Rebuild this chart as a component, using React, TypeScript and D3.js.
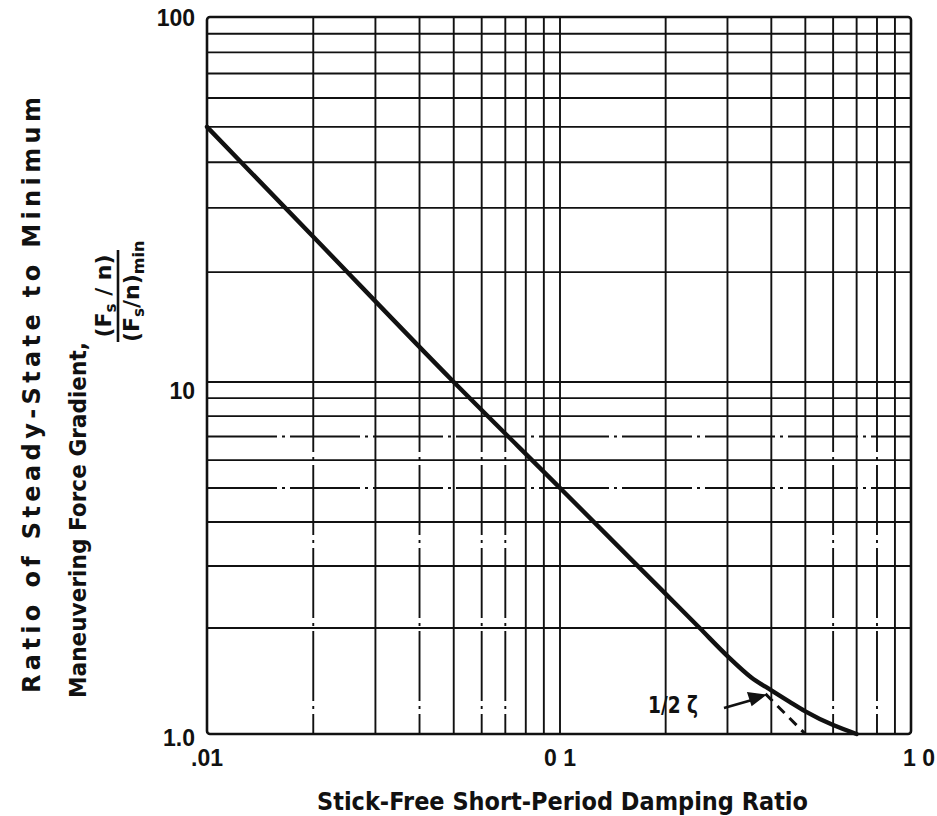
import * as React from 'react';
import * as d3 from 'd3';

// damping ratio values on the x axis, force-gradient ratio on the y axis
const solidZeta = [0.01, 0.02, 0.05, 0.1, 0.2, 0.25, 0.3, 0.35, 0.4, 0.45, 0.5, 0.6, 0.7];
const solidRatio = [50, 25, 10, 5, 2.5, 2.0, 1.665, 1.45, 1.33, 1.236, 1.16, 1.06, 1.0];

// the 1/2ζ asymptote, shown dashed where it leaves the solid curve
const dashZeta = [0.385, 0.5];
const dashRatio = [1.3, 1.0];

const xGrid = [0.02, 0.03, 0.04, 0.05, 0.06, 0.07, 0.08, 0.09, 0.1, 0.2, 0.3, 0.4, 0.5, 0.6, 0.7, 0.8, 0.9];
const yGrid = [2, 3, 4, 5, 6, 7, 8, 9, 10, 20, 30, 40, 50, 60, 70, 80, 90];
// grid lines that print as dash-dot in their lower decade
const xDashDot = [0.02, 0.04, 0.06, 0.07, 0.6, 0.8];
const yDashDot = [5, 7];

const xTickValues = [0.01, 0.1, 1];
const xTickText = ['.01', '0 1', '1 0'];
const yTickValues = [1, 10, 100];
const yTickText = ['1.0', '10', '100'];

const W = 937;
const H = 816;
const font = '"DejaVu Sans", "Liberation Sans", sans-serif';
const tickFont = '"Liberation Sans", Arial, sans-serif';

const App: React.FC = () => {
  // the scanned decades are not quite equal, so each one gets its own span
  const x = d3.scaleLog().domain([0.01, 0.1, 1]).range([207, 560, 911]);
  const y = d3.scaleLog().domain([1, 10, 100]).range([734, 382, 17]);
  const x0 = x(0.01), x1 = x(1);
  const y0 = y(1), y1 = y(100);

  const line = d3.line<[number, number]>()
    .x(d => x(d[0]))
    .y(d => y(d[1]))
    .curve(d3.curveMonotoneX);

  const solid = solidZeta.map((z, i) => [z, solidRatio[i]] as [number, number]);
  const dashed = dashZeta.map((z, i) => [z, dashRatio[i]] as [number, number]);

  const ink = '#111';
  const dashDot = '70,5,3,5';

  return (
    <svg width={W} height={H} viewBox={`0 0 ${W} ${H}`}
      style={{ position: 'absolute', left: 0, top: 0, background: '#fff' }}>
      {/* grid */}
      <g stroke={ink} strokeWidth={1.9}>
        {xGrid.map(v => xDashDot.includes(v) ? (
          <g key={'x' + v}>
            <line x1={x(v)} x2={x(v)} y1={y1} y2={y(10)} />
            <line x1={x(v)} x2={x(v)} y1={y(10)} y2={y0} strokeDasharray={dashDot} />
          </g>
        ) : (
          <line key={'x' + v} x1={x(v)} x2={x(v)} y1={y1} y2={y0} />
        ))}
        {yGrid.map(v => (
          <line key={'y' + v} x1={x0} x2={x1} y1={y(v)} y2={y(v)}
            strokeDasharray={yDashDot.includes(v) ? dashDot : undefined} />
        ))}
      </g>
      <rect x={x0} y={y1} width={x1 - x0} height={y0 - y1} fill="none" stroke={ink} strokeWidth={2.6} rx={3} />

      {/* curves */}
      <path d={line(solid) || ''} fill="none" stroke={ink} strokeWidth={4.4} strokeLinecap="round" />
      <path d={line(dashed) || ''} fill="none" stroke={ink} strokeWidth={3} strokeDasharray="10,7" />

      {/* annotation */}
      <text x={648} y={713} fontFamily={font} fontWeight={700} fontSize={23} fill={ink}
        textLength={50} lengthAdjust="spacingAndGlyphs">1/2 ζ</text>
      <line x1={724} y1={708} x2={752} y2={700} stroke={ink} strokeWidth={2.6} />
      <path d="M765,695 L748,693 L752,705 Z" fill={ink} stroke={ink} strokeWidth={1.5} />

      {/* tick labels */}
      <g fontFamily={tickFont} fontWeight={700} fontSize={23} fill={ink}>
        {yTickValues.map((v, i) => (
          <text key={'yt' + v} x={195} y={y(v) + (i === 2 ? 1 : i === 1 ? 9 : 4)} textAnchor="end" dominantBaseline="central">{yTickText[i]}</text>
        ))}
        {xTickValues.map((v, i) => (
          <text key={'xt' + v} x={x(v) + (i === 2 ? 8 : 0)} y={y0 + 24} textAnchor="middle" dominantBaseline="central">{xTickText[i]}</text>
        ))}
      </g>

      {/* axis titles */}
      <g fontFamily={font} fontWeight={700} fill={ink}>
        <text x={317} y={810} fontSize={24} textLength={491} lengthAdjust="spacingAndGlyphs">Stick-Free Short-Period Damping Ratio</text>

        <text transform="translate(40,395) rotate(-90)" fontSize={24} textAnchor="middle" textLength={596} lengthAdjust="spacing">Ratio of Steady-State to Minimum</text>
        <text transform="translate(86,698) rotate(-90)" fontSize={23} textLength={356} lengthAdjust="spacingAndGlyphs">Maneuvering Force Gradient,</text>

        <text transform="translate(111,296) rotate(-90)" fontSize={22} textAnchor="middle">
          (F<tspan fontSize={15} dy={5}>s</tspan><tspan dy={-5}> / n)</tspan>
        </text>
        <line x1={118} x2={118} y1={250} y2={342} stroke={ink} strokeWidth={2.6} />
        <text transform="translate(139,342) rotate(-90)" fontSize={22}>
          (F<tspan fontSize={15} dy={5}>s</tspan><tspan dy={-5}>/n)</tspan><tspan fontSize={16} dy={5}>min</tspan>
        </text>
      </g>
    </svg>
  );
};

export default App;
